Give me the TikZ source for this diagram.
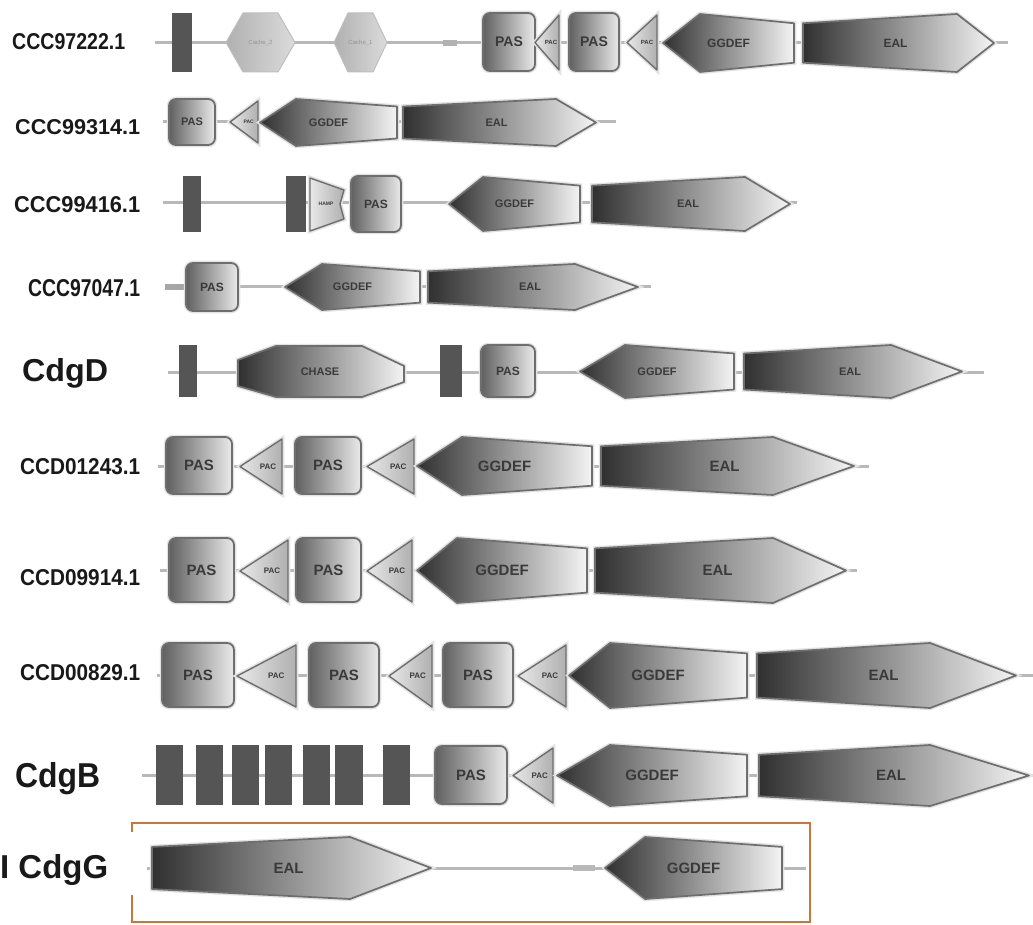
\documentclass[tikz,border=0pt]{standalone}
\usepackage{fontspec}
\setmainfont{Liberation Sans}
\setsansfont{Liberation Sans}
\usepackage{graphicx}
\definecolor{tmc}{HTML}{555555}
\definecolor{linec}{HTML}{B8B8B8}
\definecolor{edgec}{HTML}{6E6E6E}
\definecolor{darkg}{HTML}{303030}
\definecolor{lightg}{HTML}{F4F4F4}
\definecolor{pasd}{HTML}{606060}
\definecolor{pasl}{HTML}{EAEAEA}
\definecolor{pacd}{HTML}{B0B0B0}
\definecolor{pacl}{HTML}{E8E8E8}
\definecolor{txtc}{HTML}{3A3A3A}
\definecolor{orangec}{HTML}{C8763C}
\tikzset{
  bb/.style={draw=linec, line width=3pt},
  tm/.style={fill=tmc},
  halo/.style={preaction={draw=gray!22, line width=4.5pt}},
  pasbox/.style={halo, draw=edgec, line width=1.8pt, rounded corners=7pt, left color=pasd, right color=pasl},
  pacbox/.style={halo, draw=edgec, line width=1.4pt, line join=round, left color=pacl, right color=pacd},
  ggbox/.style={halo, draw=edgec, line width=1.7pt, line join=round, left color=darkg, right color=lightg},
  ealbox/.style={halo, draw=edgec, line width=1.7pt, line join=round, left color=darkg, right color=lightg},
  hexbox/.style={draw=gray!50, line width=1pt, line join=round, left color=gray!62, right color=gray!28},
  dtext/.style={inner sep=0pt, text=txtc},
  labtext/.style={anchor=base west, inner sep=0pt, text=black!90}
}
\newcommand{\lab}[6]{\node[labtext] (#1) at (#2,#3) {\resizebox{#4}{#5}{\bfseries #6}};}
\newcommand{\ddline}[4]{\coordinate (#4s) at (#1,#3); \coordinate (#4e) at (#2,#3); \draw[bb] (#4s) -- (#4e);}
\newcommand{\ddtm}[4]{\fill[tm] (#1,#3) rectangle (#2,#4);}
\newcommand{\ddpas}[6]{%
  \path[pasbox] (#2,#4) rectangle (#3,#5);
  \node[dtext,font=\fontsize{#6}{#6}\selectfont\bfseries] (#1) at ({(#2+#3)/2},{(#4+#5)/2}) {PAS};}
\newcommand{\ddpac}[6]{%
  \path[pacbox] (#2,{(#4+#5)/2}) -- (#3,#4) -- (#3,#5) -- cycle;
  \node[dtext,font=\fontsize{#6}{#6}\selectfont\bfseries] (#1) at ({(#2+2*#3)/3},{(#4+#5)/2}) {PAC};}
\newcommand{\ddgg}[7]{%
  \path[ggbox] (#2,{(#5+#6)/2}) -- (#3,#5) -- (#4,{#5+0.16*(#6-#5)}) -- (#4,{#6-0.16*(#6-#5)}) -- (#3,#6) -- cycle;
  \node[dtext,font=\fontsize{#7}{#7}\selectfont\bfseries] (#1) at ({(#2+#4)/2},{(#5+#6)/2}) {GGDEF};}
\newcommand{\ddeal}[7]{%
  \path[ealbox] (#2,{#5+0.16*(#6-#5)}) -- (#3,#5) -- (#4,{(#5+#6)/2}) -- (#3,#6) -- (#2,{#6-0.16*(#6-#5)}) -- cycle;
  \node[dtext,font=\fontsize{#7}{#7}\selectfont\bfseries] (#1) at ({(#2+#4)/2-3},{(#5+#6)/2}) {EAL};}
\newcommand{\ddhex}[7]{%
  \path[hexbox] (#2,{(#5+#6)/2}) -- ({#2+#4},#5) -- ({#3-#4},#5) -- (#3,{(#5+#6)/2}) -- ({#3-#4},#6) -- ({#2+#4},#6) -- cycle;
  \node[dtext,text=gray!85,font=\fontsize{6}{6}\selectfont] (#1) at ({(#2+#3)/2},{(#5+#6)/2}) {#7};}
\begin{document}
\begin{tikzpicture}[x=1pt,y=-1pt]
\useasboundingbox (0,0) rectangle (1033,925);
\fill[white] (0,0) rectangle (1033,925);

% Row 1
\lab{l1}{12}{50}{113pt}{16pt}{CCC97222.1}
\ddline{155}{1008}{43}{r1}
\ddtm{172}{192}{13}{72}
\ddhex{c1}{226}{295}{17}{13}{72}{Cache\_2}
\ddhex{c2}{334}{387}{14}{13}{72}{Cache\_1}
\fill[gray!60] (443,40) rectangle (457,46);
\ddpas{p11}{483}{535}{13}{71}{14}
\ddpac{a11}{535}{559}{15}{70}{6}
\ddpas{p12}{569}{619}{13}{71}{14}
\ddpac{a12}{627}{657}{15}{70}{6}
\ddgg{g1}{663}{700}{794}{14}{72}{12}
\ddeal{e1}{803}{957}{994}{14}{72}{12}

% Row 2
\lab{l2}{15}{135}{125pt}{15pt}{CCC99314.1}
\ddline{163}{616}{122}{r2}
\ddpas{p2}{169}{215}{99}{145}{11}
\ddpac{a2}{230}{258}{101}{143}{5}
\ddgg{g2}{260}{296}{397}{99}{146}{11}
\ddeal{e2}{403}{556}{596}{99}{146}{11}

% Row 3
\lab{l3}{14}{213}{126pt}{16pt}{CCC99416.1}
\ddline{163}{797}{203}{r3}
\ddtm{183}{201}{176}{232}
\ddtm{286}{306}{176}{232}
\path[pacbox] (310,178) -- (344,190) -- (340,204) -- (344,219) -- (310,231) -- cycle;
\node[dtext,font=\fontsize{5}{5}\selectfont\bfseries] (h3) at (326,204) {HAMP};
\ddpas{p3}{351}{401}{176}{232}{12}
\ddgg{g3}{449}{483}{580}{177}{231}{11}
\ddeal{e3}{592}{745}{790}{177}{231}{11}

% Row 4
\lab{l4}{28}{297}{112pt}{17pt}{CCC97047.1}
\ddline{165}{651}{287}{r4}
\fill[gray!70] (165,284) rectangle (184,290);
\ddpas{p4}{186}{238}{263}{311}{12}
\ddgg{g4}{285}{322}{420}{264}{310}{11}
\ddeal{e4}{428}{575}{638}{264}{310}{11}

% Row 5
\lab{l5}{22}{381}{86pt}{23pt}{CdgD}
\ddline{168}{984}{372}{r5}
\ddtm{179}{197}{345}{397}
\path[ggbox] (238,360) -- (276,346) -- (362,346) -- (404,366) -- (404,382) -- (362,397) -- (276,397) -- (238,386) -- cycle;
\node[dtext,font=\fontsize{11}{11}\selectfont\bfseries] (ch5) at (320,372) {CHASE};
\ddtm{440}{462}{345}{397}
\ddpas{p5}{481}{535}{345}{397}{12}
\ddgg{g5}{580}{625}{734}{345}{398}{11}
\ddeal{e5}{744}{891}{962}{345}{398}{11}

% Row 6
\lab{l6}{20}{474}{120pt}{16pt}{CCD01243.1}
\ddline{158}{869}{466}{r6}
\ddpas{p61}{166}{232}{437}{494}{15}
\ddpac{a61}{240}{282}{439}{494}{8}
\ddpas{p62}{295}{361}{437}{494}{15}
\ddpac{a62}{367}{414}{439}{494}{8}
\ddgg{g6}{417}{462}{592}{437}{495}{15}
\ddeal{e6}{601}{773}{854}{437}{495}{15}

% Row 7
\lab{l7}{20}{585}{120pt}{16pt}{CCD09914.1}
\ddline{160}{857}{570}{r7}
\ddpas{p71}{169}{234}{538}{602}{15}
\ddpac{a71}{240}{288}{540}{602}{8}
\ddpas{p72}{296}{361}{538}{602}{15}
\ddpac{a72}{367}{412}{540}{602}{8}
\ddgg{g7}{417}{457}{587}{538}{603}{15}
\ddeal{e7}{595}{773}{846}{538}{603}{15}

% Row 8
\lab{l8}{20}{680}{120pt}{16pt}{CCD00829.1}
\ddline{157}{1033}{675}{r8}
\ddpas{p81}{162}{234}{643}{707}{15}
\ddpac{a81}{237}{296}{645}{707}{8}
\ddpas{p82}{309}{379}{643}{707}{15}
\ddpac{a82}{389}{432}{645}{707}{8}
\ddpas{p83}{443}{513}{643}{707}{15}
\ddpac{a83}{518}{566}{645}{707}{8}
\ddgg{g8}{569}{610}{747}{643}{708}{15}
\ddeal{e8}{757}{930}{1016}{643}{708}{15}

% Row 9
\lab{l9}{15}{787}{85pt}{25pt}{CdgB}
\ddline{142}{1033}{775}{r9}
\foreach \a/\b in {156/183,196/223,232/259,265/292,303/330,335/363,383/410} {\fill[tm] (\a,745) rectangle (\b,805);}
\ddpas{p9}{435}{507}{746}{804}{15}
\ddpac{a9}{513}{553}{748}{803}{8}
\ddgg{g9}{557}{610}{747}{745}{806}{15}
\ddeal{e9}{759}{930}{1029}{745}{806}{15}

% Row 10
\lab{l10}{0}{878}{108pt}{24pt}{I CdgG}
\draw[orangec, line width=1.5pt] (132,832) -- (132,823) -- (810,823) -- (810,922) -- (132,922) -- (132,895);
\ddline{147}{806}{868}{r10}
\ddeal{e10}{152}{350}{431}{837}{899}{15}
\fill[gray!55] (573,865) rectangle (595,871);
\ddgg{g10}{605}{645}{782}{837}{899}{15}
\end{tikzpicture}
\end{document}
